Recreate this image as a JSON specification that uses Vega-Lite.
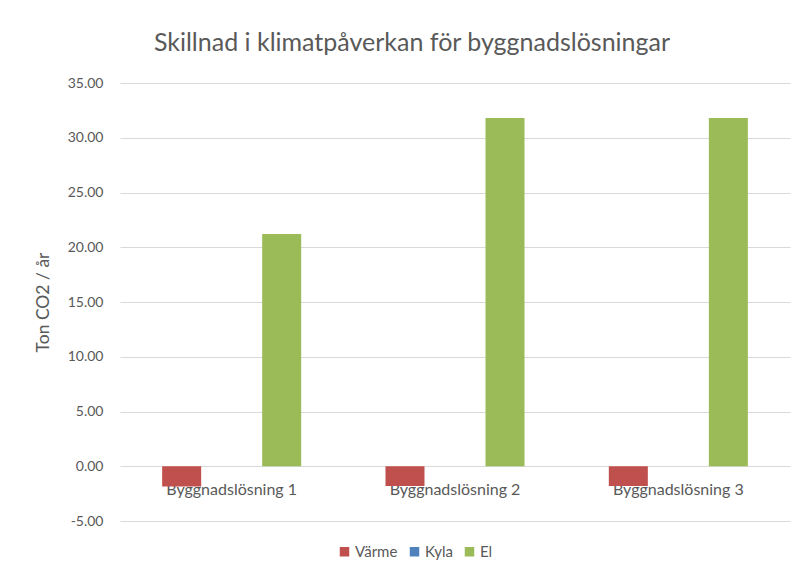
{
  "$schema": "https://vega.github.io/schema/vega-lite/v6.json",
  "width": 670,
  "height": 438,
  "autosize": {"type": "none"},
  "padding": {"left": 120, "top": 83, "right": 16, "bottom": 56},
  "background": "white",
  "title": {
    "text": "Skillnad i klimatpåverkan för byggnadslösningar",
    "font": "Lato",
    "fontSize": 25,
    "fontWeight": "normal",
    "color": "#595959",
    "anchor": "middle",
    "dx": -43,
    "offset": 20
  },
  "data": {
    "values": [
      {"losning": "Byggnadslösning 1", "serie": "Värme", "varde": -1.85},
      {"losning": "Byggnadslösning 1", "serie": "Kyla", "varde": 0},
      {"losning": "Byggnadslösning 1", "serie": "El", "varde": 21.2},
      {"losning": "Byggnadslösning 2", "serie": "Värme", "varde": -1.8},
      {"losning": "Byggnadslösning 2", "serie": "Kyla", "varde": 0},
      {"losning": "Byggnadslösning 2", "serie": "El", "varde": 31.8},
      {"losning": "Byggnadslösning 3", "serie": "Värme", "varde": -1.8},
      {"losning": "Byggnadslösning 3", "serie": "Kyla", "varde": 0},
      {"losning": "Byggnadslösning 3", "serie": "El", "varde": 31.8}
    ]
  },
  "mark": {"type": "bar"},
  "encoding": {
    "x": {
      "field": "losning",
      "type": "nominal",
      "scale": {"paddingInner": 0, "paddingOuter": 0},
      "axis": {
        "title": null,
        "offset": -55,
        "domain": false,
        "ticks": false,
        "grid": false,
        "labelAngle": 0,
        "labelPadding": 15,
        "labelFont": "Lato",
        "labelFontSize": 16,
        "labelColor": "#595959"
      }
    },
    "xOffset": {
      "field": "serie",
      "type": "nominal",
      "sort": ["Värme", "Kyla", "El"],
      "scale": {"paddingInner": 0.22, "paddingOuter": 0.843}
    },
    "y": {
      "field": "varde",
      "type": "quantitative",
      "scale": {"domain": [-5, 35], "nice": false},
      "axis": {
        "title": "Ton CO2 / år",
        "values": [-5, 0, 5, 10, 15, 20, 25, 30, 35],
        "format": ".2f",
        "labelExpr": "replace(format(datum.value, '.2f'), '\u2212', '-')",
        "domain": false,
        "ticks": false,
        "gridColor": "#D9D9D9",
        "gridWidth": 1,
        "labelPadding": 17,
        "labelFont": "Lato",
        "labelFontSize": 14,
        "labelColor": "#595959",
        "titleFont": "Lato",
        "titleFontSize": 17.5,
        "titleFontWeight": "normal",
        "titleColor": "#595959",
        "titlePadding": 15
      }
    },
    "color": {
      "field": "serie",
      "type": "nominal",
      "sort": ["Värme", "Kyla", "El"],
      "scale": {"domain": ["Värme", "Kyla", "El"], "range": ["#C0504D", "#4F81BD", "#9BBB59"]},
      "legend": {
        "title": null,
        "orient": "none",
        "direction": "horizontal",
        "legendX": 217,
        "legendY": 461,
        "symbolType": "square",
        "symbolSize": 90,
        "symbolStrokeWidth": 0,
        "labelFont": "Lato",
        "labelFontSize": 15,
        "labelColor": "#595959",
        "columnPadding": 9,
        "labelOffset": 3
      }
    }
  },
  "config": {"view": {"stroke": null}}
}
